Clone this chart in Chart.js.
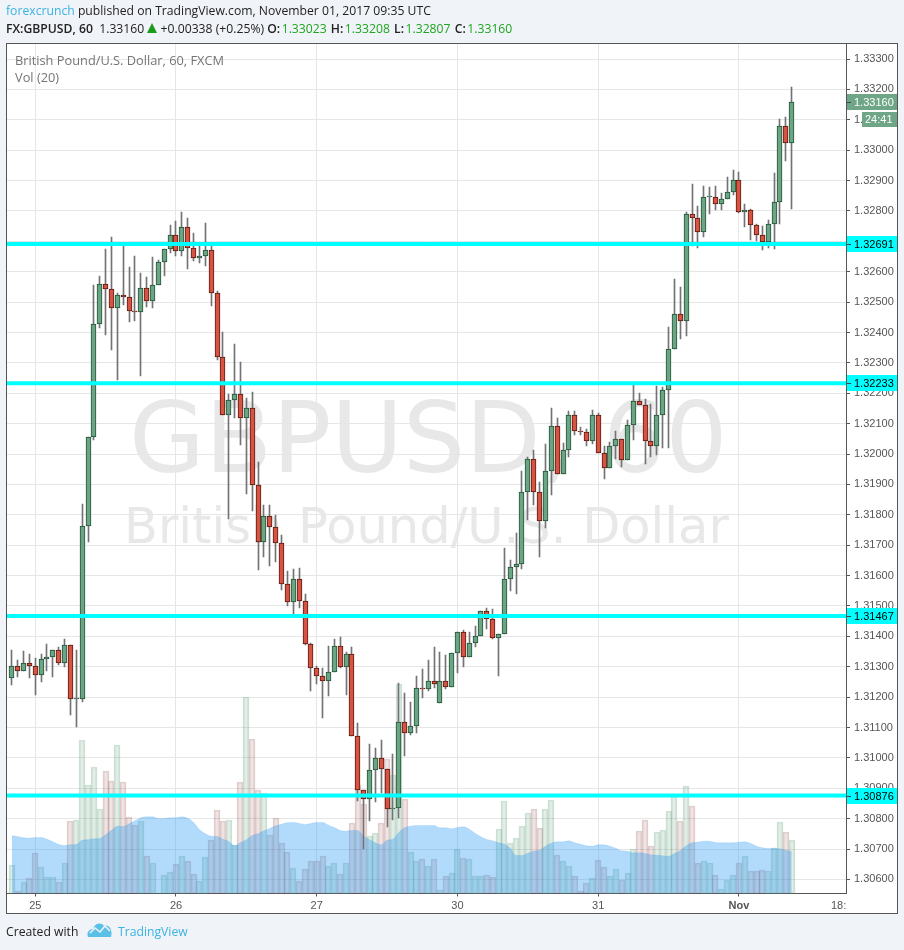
<!DOCTYPE html>
<html>
<head>
<meta charset="utf-8">
<title>GBPUSD</title>
<script src="https://cdn.jsdelivr.net/npm/chart.js@4"></script>
<style>
    html, body { margin: 0; padding: 0; background: #f0f3f7; overflow: hidden; }
    body { position: relative; width: 904px; height: 950px; font-family: "Open Sans", sans-serif; color: #222; }
    #frame { position: absolute; left: 6px; top: 43px; width: 892px; height: 871px; box-sizing: border-box; border: 1px solid #555; background: #fff; }
    #chart { position: absolute; left: 0; top: 0; }
    .row { position: absolute; left: 6px; white-space: nowrap; font-size: 12.2px; line-height: 18px; }
    .row b { font-weight: 600; }
    .blue { color: #3bb3e4; }
    .up { color: #1fa51f; margin-left: 1.5px; margin-right: 1px; }
    .wm { position: absolute; white-space: nowrap; font-family: "DejaVu Sans", sans-serif; color: #e8e8e8; }
    .legend { position: absolute; left: 15px; white-space: nowrap; color: #757575; font-size: 12.8px; line-height: 16px; }
    #tri { display: inline-block; width: 0; height: 0; border-left: 5px solid transparent; border-right: 5px solid transparent; border-bottom: 10px solid #1a9c1a; margin: 0; }
    #logo { position: absolute; left: 87px; top: 922px; }
</style>
</head>
<body>
<div id="frame"></div>
<div class="wm" style="left:129px;top:380px;font-size:98px;line-height:116px">GBPUSD, 60</div>
<div class="wm" style="left:124px;top:497px;font-size:49.5px;line-height:58px">British Pound/U.S. Dollar</div>
<canvas id="chart" width="904" height="950"></canvas>
<div class="row" style="top:2px"><span class="blue">forexcrunch</span> published on TradingView.com, November 01, 2017 09:35 UTC</div>
<div class="row" style="top:20px"><b>FX:GBPUSD, 60</b>&nbsp; 1.33160 <span id="tri"></span> +0.00338 (+0.25%) <b>O:</b><span class="up">1.33023</span> <b>H:</b><span class="up">1.33208</span> <b>L:</b><span class="up">1.32807</span> <b>C:</b><span class="up">1.33160</span></div>
<div class="legend" style="top:52px">British Pound/U.S. Dollar, 60, FXCM</div>
<div class="legend" style="top:69px">Vol (20)</div>
<div class="row" style="top:923px">Created with</div>
<svg id="logo" width="26" height="17" viewBox="0 0 26 17">
    <path d="M1 15 C-1 10 3 7 6 7 C8 1 14 0 17 4 C22 2 26 8 24 15 Z" fill="#5bc0e8"/>
    <path d="M3 11 L8 6 L13 10 L18 4 L23 9" fill="none" stroke="#f0f3f7" stroke-width="1.6"/>
</svg>
<div class="row blue" style="top:923px;left:118px">TradingView</div>

<script>
// Hourly candles
const opens = [
    1.31262,1.31301,1.31285,1.31311,1.31301,1.31272,1.31324,1.31331,1.31354,1.31311,
    1.31371,1.31193,1.31193,1.31762,1.32056,1.32427,1.32559,1.32542,1.32480,1.32522,
    1.32516,1.32470,1.32466,1.32545,1.32503,1.32555,1.32631,1.32674,1.32720,1.32667,
    1.32746,1.32677,1.32644,1.32651,1.32670,1.32529,1.32318,1.32127,1.32177,1.32196,
    1.32118,1.32151,1.31897,1.31710,1.31795,1.31759,1.31706,1.31571,1.31512,1.31588,
    1.31515,1.31376,1.31295,1.31270,1.31254,1.31284,1.31367,1.31300,1.31341,1.31073,
    1.30895,1.30866,1.30959,1.30999,1.30962,1.30833,1.30836,1.31117,1.31081,1.31104,
    1.31229,1.31228,1.31252,1.31180,1.31252,1.31232,1.31344,1.31413,1.31331,1.31377,
    1.31400,1.31483,1.31456,1.31396,1.31407,1.31588,1.31627,1.31637,1.31874,1.31983,
    1.31874,1.31779,1.31943,1.32091,1.31933,1.32012,1.32127,1.32075,1.32073,1.32042,
    1.32130,1.32002,1.31953,1.32025,1.32048,1.31979,1.32094,1.32173,1.32160,1.32042,
    1.32025,1.32127,1.32210,1.32345,1.32460,1.32437,1.32789,1.32776,1.32732,1.32845,
    1.32845,1.32822,1.32838,1.32861,1.32901,1.32795,1.32802,1.32753,1.32720,1.32699,
    1.32756,1.32828,1.33079,1.33023
];
const closes = [
    1.31301,1.31285,1.31311,1.31301,1.31272,1.31324,1.31331,1.31354,1.31311,1.31371,
    1.31193,1.31196,1.31762,1.32056,1.32427,1.32559,1.32542,1.32480,1.32522,1.32516,
    1.32470,1.32466,1.32545,1.32503,1.32555,1.32631,1.32674,1.32720,1.32667,1.32746,
    1.32677,1.32644,1.32651,1.32670,1.32529,1.32318,1.32127,1.32177,1.32196,1.32118,
    1.32151,1.31897,1.31710,1.31795,1.31759,1.31706,1.31571,1.31512,1.31588,1.31515,
    1.31376,1.31295,1.31270,1.31254,1.31284,1.31367,1.31300,1.31341,1.31073,1.30895,
    1.30866,1.30959,1.30999,1.30962,1.30833,1.30836,1.31117,1.31081,1.31104,1.31229,
    1.31226,1.31252,1.31242,1.31252,1.31232,1.31344,1.31413,1.31331,1.31377,1.31400,
    1.31483,1.31456,1.31396,1.31407,1.31588,1.31627,1.31637,1.31874,1.31983,1.31874,
    1.31779,1.31943,1.32091,1.31933,1.32012,1.32127,1.32075,1.32073,1.32042,1.32130,
    1.32002,1.31953,1.32025,1.32048,1.31979,1.32094,1.32173,1.32160,1.32042,1.32025,
    1.32127,1.32210,1.32345,1.32460,1.32437,1.32789,1.32776,1.32732,1.32845,1.32848,
    1.32822,1.32838,1.32861,1.32901,1.32795,1.32802,1.32753,1.32720,1.32699,1.32756,
    1.32828,1.33079,1.33023,1.33160
];
const highs = [
    1.31355,1.31322,1.31352,1.31342,1.31328,1.31342,1.31375,1.31355,1.31365,1.31391,
    1.31371,1.31355,1.31836,1.32056,1.32556,1.32586,1.32675,1.32714,1.32529,1.32688,
    1.32616,1.32652,1.32596,1.32583,1.32648,1.32638,1.32674,1.32754,1.32767,1.32796,
    1.32777,1.32727,1.32685,1.32760,1.32688,1.32536,1.32400,1.32198,1.32362,1.32302,
    1.32183,1.32203,1.31973,1.31831,1.31831,1.31798,1.31732,1.31614,1.31621,1.31624,
    1.31538,1.31377,1.31302,1.31295,1.31367,1.31391,1.31398,1.31349,1.31364,1.31114,
    1.30895,1.31045,1.31033,1.31058,1.30962,1.31012,1.31245,1.31215,1.31184,1.31269,
    1.31292,1.31321,1.31364,1.31350,1.31338,1.31344,1.31413,1.31420,1.31413,1.31433,
    1.31483,1.31493,1.31490,1.31407,1.31691,1.31650,1.31740,1.31944,1.31989,1.32013,
    1.31907,1.32033,1.32151,1.32118,1.32035,1.32140,1.32140,1.32088,1.32081,1.32144,
    1.32134,1.32025,1.32039,1.32075,1.32048,1.32111,1.32227,1.32200,1.32180,1.32163,
    1.32223,1.32220,1.32418,1.32576,1.32549,1.32796,1.32889,1.32816,1.32882,1.32879,
    1.32882,1.32858,1.32911,1.32935,1.32928,1.32822,1.32805,1.32756,1.32749,1.32769,
    1.32925,1.33102,1.33108,1.33208
];
const lows = [
    1.31241,1.31267,1.31285,1.31264,1.31208,1.31251,1.31287,1.31265,1.31306,1.31300,
    1.31142,1.31103,1.31185,1.31712,1.32046,1.32416,1.32393,1.32343,1.32245,1.32491,
    1.32436,1.32439,1.32258,1.32485,1.32482,1.32555,1.32586,1.32662,1.32653,1.32653,
    1.32610,1.32636,1.32630,1.32620,1.32488,1.32310,1.32127,1.31787,1.32118,1.32031,
    1.31870,1.31814,1.31617,1.31662,1.31633,1.31645,1.31552,1.31501,1.31470,1.31494,
    1.31372,1.31221,1.31244,1.31132,1.31204,1.31284,1.31295,1.31208,1.31073,1.30859,
    1.30699,1.30793,1.30856,1.30885,1.30771,1.30797,1.30803,1.31007,1.31074,1.31081,
    1.31198,1.31221,1.31231,1.31180,1.31226,1.31232,1.31278,1.31300,1.31331,1.31366,
    1.31400,1.31423,1.31390,1.31270,1.31407,1.31550,1.31540,1.31620,1.31784,1.31833,
    1.31662,1.31756,1.31866,1.31933,1.31933,1.31991,1.32063,1.32063,1.32027,1.32032,
    1.32002,1.31919,1.31953,1.31983,1.31958,1.31979,1.32046,1.32160,1.31966,1.31991,
    1.31996,1.32019,1.32019,1.32345,1.32380,1.32388,1.32686,1.32678,1.32715,1.32789,
    1.32804,1.32804,1.32838,1.32853,1.32792,1.32748,1.32705,1.32700,1.32672,1.32679,
    1.32676,1.32758,1.32965,1.32807
];
const volumes = [
    29,3,12,16,41,27,17,17,12,31,
    73,74,154,109,127,85,123,113,149,112,
    77,69,73,38,31,1,19,22,30,38,
    33,20,13,37,54,84,73,74,49,112,
    197,155,104,101,59,76,51,42,26,13,
    25,33,33,38,28,31,20,31,71,109,
    90,58,61,71,135,119,210,95,42,33,
    35,28,35,4,18,21,45,36,35,18,
    18,19,17,65,93,51,56,68,81,85,
    66,85,94,39,33,28,18,3,11,16,
    34,27,18,25,14,21,45,63,74,48,
    62,64,83,98,73,108,88,31,33,31,
    19,5,14,19,31,38,23,23,24,23,
    46,72,62,54
];
const volumeMa = [
    57.7,57,55.7,55.3,56,56,54.3,51.7,49,48,
    48.7,49,53.3,53.7,54.7,55,58.7,63.3,67.3,67,
    69.7,72.7,75.7,76.7,76.7,75,75,75.7,75.7,76.7,
    75.3,71,64,59.7,57.3,57,54.3,52,47.7,51,
    53.7,58,59.7,62.7,65,67.7,69.3,70.7,71,70,
    69,70,71,71,68.3,66,63,62.3,63,63,
    57.3,54,50.7,48.7,53.3,54.3,61,66,67.3,68,
    68,68,68,65.7,65.7,64.7,66,66.7,64.3,60.3,
    56.7,54,52.7,50.7,49.3,45.3,38,38,40.3,42.3,
    43.3,47.3,50.3,51.7,51.7,52.7,50.7,49.3,47.7,47.3,
    48.7,48.7,47.3,45.3,42.7,42.3,40.7,40.7,40,38.7,
    38.3,37.7,37.3,40,42.7,47.7,50.7,51.3,52.3,52.3,
    51,50.7,50.7,50.7,51.3,51.7,50,47.3,45.7,45,
    45.3,44.7,43.3,41.7
];

// Axis labels and the horizontal levels
const dayTicks = [4, 28, 52, 76, 100, 124, 141];
const dayLabels = ['25', '26', '27', '30', '31', 'Nov', '18:'];
const priceTicks = [
    1.306,1.307,1.308,1.309,1.310,1.311,1.312,1.313,1.314,1.315,1.316,1.317,1.318,1.319,
    1.320,1.321,1.322,1.323,1.324,1.325,1.326,1.327,1.328,1.329,1.330,1.331,1.332,1.333
];
const levels = [1.32691, 1.32233, 1.31467, 1.30876];
const lastPrice = 1.33160;
const countdown = '24:41';

const UP = '#6ba583', UP_EDGE = '#225437', DOWN = '#d75442', DOWN_EDGE = '#5b1a13';
const CYAN = '#00ffff', TAG_GREEN = '#6fa687', TICK_FONT = { family: '"Liberation Sans", Arial, sans-serif', size: 11 };
const X_MIN = -0.82, X_MAX = 142.26;

const isUp = i => closes[i] >= opens[i];

// Keep the marks on whole pixels, like the original
const snapBars = {
    id: 'snapBars',
    beforeDatasetsDraw(chart) {
        chart.data.datasets.forEach((ds, n) => {
            if (ds.type === 'line') return;
            chart.getDatasetMeta(n).data.forEach(bar => {
                bar.x = ds.label === 'Vol' ? Math.round(bar.x) : Math.floor(bar.x) + 0.5;
                bar.y = Math.round(bar.y);
                bar.base = Math.round(bar.base);
            });
        });
    }
};

// Price tags on the right axis
const priceTags = {
    id: 'priceTags',
    afterDraw(chart) {
        const { ctx, scales: { y } } = chart;
        const right = y.right;
        ctx.save();
        ctx.font = '11px "Liberation Sans", Arial, sans-serif';
        ctx.textBaseline = 'middle';
        const tag = (value, bg, fg, left) => {
            const py = Math.round(y.getPixelForValue(value));
            ctx.fillStyle = bg;
            ctx.fillRect(y.left + 1, py - 8, right - y.left - 1, 16);
            ctx.fillStyle = '#444';
            ctx.fillRect(y.left + 1, py, 4, 1);
            ctx.fillStyle = fg;
            ctx.fillText(value.toFixed(5), left, py + 1);
            return py;
        };
        levels.forEach(v => tag(v, CYAN, '#000', y.left + 8));
        const py = tag(lastPrice, TAG_GREEN, '#fff', y.left + 8);
        ctx.fillStyle = TAG_GREEN;
        ctx.fillRect(right - 35, py + 10, 35, 15);
        ctx.fillStyle = '#fff';
        ctx.fillText(countdown, right - 32, py + 18);
        ctx.restore();
    }
};

new Chart(document.getElementById('chart'), {
    type: 'bar',
    data: {
        datasets: [
            // cyan support / resistance levels
            ...levels.map(v => ({
                type: 'line',
                data: [{ x: X_MIN, y: v }, { x: X_MAX, y: v }],
                borderColor: CYAN,
                borderWidth: 4,
                pointRadius: 0,
                order: 1
            })),
            {
                label: 'Body',
                data: opens.map((o, i) => ({ x: i, y: [o, closes[i]] })),
                backgroundColor: opens.map((o, i) => isUp(i) ? UP : DOWN),
                borderColor: opens.map((o, i) => isUp(i) ? UP_EDGE : DOWN_EDGE),
                borderWidth: 1,
                borderSkipped: false,
                barThickness: 5,
                grouped: false,
                order: 2
            },
            {
                label: 'Wick',
                data: lows.map((l, i) => ({ x: i, y: [l, highs[i]] })),
                backgroundColor: '#737375',
                borderWidth: 0,
                barThickness: 1,
                grouped: false,
                order: 3
            },
            {
                type: 'line',
                label: 'Vol MA',
                yAxisID: 'yVol',
                data: volumeMa.map((v, i) => ({ x: i, y: v })),
                borderColor: 'rgba(33,150,243,0.15)',
                backgroundColor: 'rgba(33,150,243,0.35)',
                borderWidth: 1,
                fill: 'origin',
                pointRadius: 0,
                cubicInterpolationMode: 'monotone',
                order: 4
            },
            {
                label: 'Vol',
                yAxisID: 'yVol',
                data: volumes.map((v, i) => ({ x: i, y: v })),
                backgroundColor: volumes.map((v, i) => isUp(i) ? 'rgba(107,165,131,0.2)' : 'rgba(150,85,80,0.16)'),
                borderColor: volumes.map((v, i) => isUp(i) ? 'rgba(107,165,131,0.3)' : 'rgba(150,85,80,0.26)'),
                borderWidth: 1,
                borderSkipped: false,
                barThickness: 6,
                grouped: false,
                order: 5
            }
        ]
    },
    options: {
        responsive: false,
        animation: false,
        layout: { padding: { left: 7, top: 44, right: 7, bottom: 36.5 } },
        plugins: { legend: { display: false }, tooltip: { enabled: false } },
        scales: {
            x: {
                type: 'linear',
                offset: false,
                min: X_MIN,
                max: X_MAX,
                afterBuildTicks: scale => { scale.ticks = dayTicks.map(v => ({ value: v })); },
                afterFit: scale => { scale.height = 20; },
                grid: {
                    offset: false,
                    color: ctx => ctx.index === dayTicks.length - 1 ? 'transparent' : '#e6e6e6',
                    tickColor: ctx => ctx.index === dayTicks.length - 1 ? 'transparent' : '#555',
                    tickLength: 3
                },
                border: { color: '#555', width: 1 },
                ticks: {
                    autoSkip: false,
                    maxRotation: 0,
                    padding: 3,
                    color: '#555',
                    font: ctx => ({ ...TICK_FONT, weight: ctx.index === 5 ? 'bold' : 'normal' }),
                    callback: (value, index) => dayLabels[index]
                }
            },
            y: {
                position: 'right',
                min: 1.305537,
                max: 1.333494,
                afterBuildTicks: scale => { scale.ticks = priceTicks.map(v => ({ value: v })); },
                afterFit: scale => { scale.width = 51; },
                grid: { color: '#e6e6e6', tickColor: '#555', tickLength: 4 },
                border: { color: '#555', width: 1 },
                ticks: {
                    autoSkip: false,
                    padding: 4,
                    color: '#555',
                    font: TICK_FONT,
                    callback: value => value.toFixed(5)
                }
            },
            yVol: { display: false, min: 0, max: 849.5 }
        }
    },
    plugins: [snapBars, priceTags]
});
</script>
</body>
</html>
